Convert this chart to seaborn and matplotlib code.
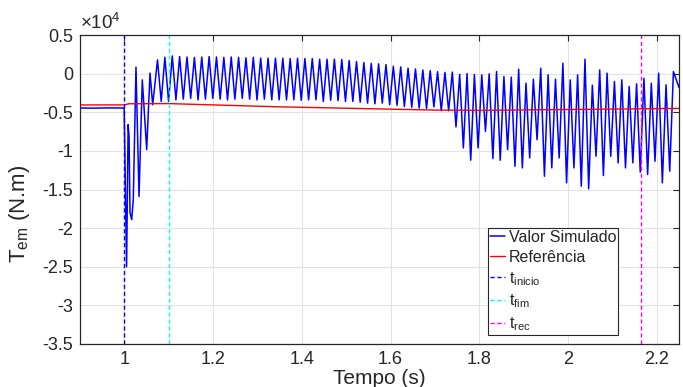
import numpy as np
import pandas as pd
import seaborn as sns
import matplotlib
matplotlib.use('Agg')
import matplotlib.pyplot as plt
from matplotlib.ticker import FuncFormatter

# --- data (Tem in N.m, time in s) ---
# pre-fault steady state and fault transient
trans_t = [0.900, 0.930, 0.960, 0.9995, 1.005, 1.0085, 1.0105, 1.0127, 1.0165,
           1.0201, 1.0262, 1.0330, 1.0404, 1.0503, 1.0578, 1.0638]
trans_v = [-4450, -4470, -4440, -4450, -25000, -6600, -8100, -18000, -18900,
           -16300, 830, -15900, -810, -9840, 60, -4030]

# oscillation peaks
peak_t = [1.0747, 1.0913, 1.1079, 1.1245, 1.1411, 1.1578, 1.1744, 1.1910, 1.2076, 1.2242,
          1.2408, 1.2574, 1.2740, 1.2906, 1.3072, 1.3239, 1.3405, 1.3571, 1.3737, 1.3903,
          1.4069, 1.4235, 1.4401, 1.4567, 1.4733, 1.4900, 1.5066, 1.5232, 1.5398, 1.5564,
          1.5730, 1.5896, 1.6062, 1.6228, 1.6394, 1.6561, 1.6727, 1.6893, 1.7059, 1.7225,
          1.7391, 1.7557, 1.7723, 1.7889, 1.8055, 1.8222, 1.8388, 1.8554, 1.8720, 1.8886,
          1.9052, 1.9218, 1.9384, 1.9550, 1.9716, 1.9883, 2.0049, 2.0215, 2.0381, 2.0547,
          2.0713, 2.0879, 2.1045, 2.1211, 2.1377, 2.1544, 2.1710, 2.1876, 2.2042, 2.2208,
          2.2374]
peak_v = [1770, 2120, 2290, 2200, 2150, 2100, 2150, 2200, 2150, 2100,
          2150, 2100, 2050, 2100, 2000, 2000, 1990, 1990, 1950, 1990,
          1950, 1950, 1860, 1860, 1860, 1820, 1700, 1560, 1430, 1330,
          1270, 1170, 950, 870, 700, 600, 460, 380, 250, 150,
          200, -100, 0, -120, -160, -30, 270, -380, -450, 570,
          -1240, -720, 700, -160, -720, 1340, -810, -160, 1860, -1500,
          480, 60, -1020, -810, -1670, -1320, -600, -1240, 60, -1450,
          270]

# oscillation troughs
trough_t = [1.0830, 1.0996, 1.1162, 1.1328, 1.1494, 1.1661, 1.1827, 1.1993, 1.2159, 1.2325,
            1.2491, 1.2657, 1.2823, 1.2989, 1.3155, 1.3322, 1.3488, 1.3654, 1.3820, 1.3986,
            1.4152, 1.4318, 1.4484, 1.4650, 1.4816, 1.4983, 1.5149, 1.5315, 1.5481, 1.5647,
            1.5813, 1.5979, 1.6145, 1.6311, 1.6477, 1.6644, 1.6810, 1.6976, 1.7142, 1.7308,
            1.7474, 1.7640, 1.7806, 1.7972, 1.8138, 1.8305, 1.8471, 1.8637, 1.8803, 1.8969,
            1.9135, 1.9301, 1.9467, 1.9633, 1.9799, 1.9966, 2.0132, 2.0298, 2.0464, 2.0630,
            2.0796, 2.0962, 2.1128, 2.1294, 2.1460, 2.1627, 2.1793, 2.1959, 2.2125, 2.2291]
trough_v = [-3600, -3600, -3400, -3300, -3200, -3400, -3300, -3200, -3300, -3400,
            -3300, -3200, -3300, -3400, -3300, -3400, -3390, -3390, -3390, -3450,
            -3390, -3390, -3600, -3450, -3500, -3600, -3600, -3700, -3820, -3900,
            -3820, -4030, -4100, -4250, -4350, -4460, -4500, -4300, -4800, -4800,
            -6900, -9620, -11210, -9620, -7470, -11000, -11210, -9840, -11990, -12200,
            -10910, -8550, -13280, -12200, -10910, -14140, -12200, -14570, -14910, -10700,
            -13190, -10700, -11550, -12200, -11550, -12760, -13060, -11350, -14140, -12630]

end_t = [2.25]
end_v = [-1800]

# reference torque
ref_t = [0.90, 1.00, 1.01, 1.10, 1.35, 1.50, 1.70, 1.80, 2.00, 2.25]
ref_v = [-4050, -4050, -3900, -3880, -4300, -4480, -4720, -4760, -4650, -4500]

# event times
t_inicio = 1.0
t_fim = 1.1
t_rec = 2.165

sim = pd.DataFrame({
    't': trans_t + peak_t + trough_t + end_t,
    'v': trans_v + peak_v + trough_v + end_v,
}).sort_values('t')
ref = pd.DataFrame({'t': ref_t, 'v': ref_v})

sns.set_style('white')
plt.rcParams['font.family'] = ['Liberation Sans', 'DejaVu Sans']
plt.rcParams['mathtext.default'] = 'regular'

fig = plt.figure(figsize=(6.83, 3.87), dpi=100)
ax = fig.add_axes([80 / 683, 1 - 344 / 387, 599 / 683, 309 / 387])

sns.lineplot(data=sim, x='t', y='v', ax=ax, color='#0000ff', lw=1.1,
             estimator=None, sort=False, label='Valor Simulado')
sns.lineplot(data=ref, x='t', y='v', ax=ax, color='#ff0000', lw=1.0,
             estimator=None, sort=False, label='Referência')

dash = (0, (3, 2))
ax.axvline(t_inicio, color='#0000ff', ls=dash, lw=1.0, label=r't$_{inicio}$')
ax.axvline(t_fim, color='#00ffff', ls=dash, lw=1.0, label=r't$_{fim}$')
ax.axvline(t_rec, color='#ff00ff', ls=dash, lw=1.0, label=r't$_{rec}$')

ax.set_xlim(0.9, 2.25)
ax.set_ylim(-3.5e4, 0.5e4)
ax.set_xticks([1, 1.2, 1.4, 1.6, 1.8, 2, 2.2])
ax.set_yticks(np.arange(-3.5e4, 0.51e4, 0.5e4))
ax.xaxis.set_major_formatter(FuncFormatter(lambda v, p: f'{v:g}'))
ax.yaxis.set_major_formatter(FuncFormatter(lambda v, p: f'{v / 1e4:g}'))
ax.text(0.0, 1.005, r'$\times10^{4}$', transform=ax.transAxes,
        ha='left', va='bottom', fontsize=13.5, color='#262626')

ax.grid(True, color='#e3e3e3', lw=0.8)
ax.set_axisbelow(True)
for s in ax.spines.values():
    s.set_color('#262626')
    s.set_linewidth(0.9)
ax.tick_params(direction='in', top=True, right=True, length=4, width=0.8,
               labelsize=13, colors='#262626', pad=5)

ax.set_xlabel('Tempo (s)', fontsize=15, color='#262626', labelpad=1)
ax.set_ylabel(r'T$_{em}$ (N.m)', fontsize=16, color='#262626')
ax.yaxis.set_label_coords(-0.08, 0.42)

leg = ax.legend(loc='upper left', bbox_to_anchor=(0.681, 0.375), fontsize=11.5,
                frameon=True, fancybox=False, framealpha=1, edgecolor='#262626',
                borderaxespad=0, borderpad=0.1, labelspacing=0.32,
                handlelength=1.0, handletextpad=0.2)
leg.get_frame().set_linewidth(0.8)

fig.savefig('out.png', dpi=100)
